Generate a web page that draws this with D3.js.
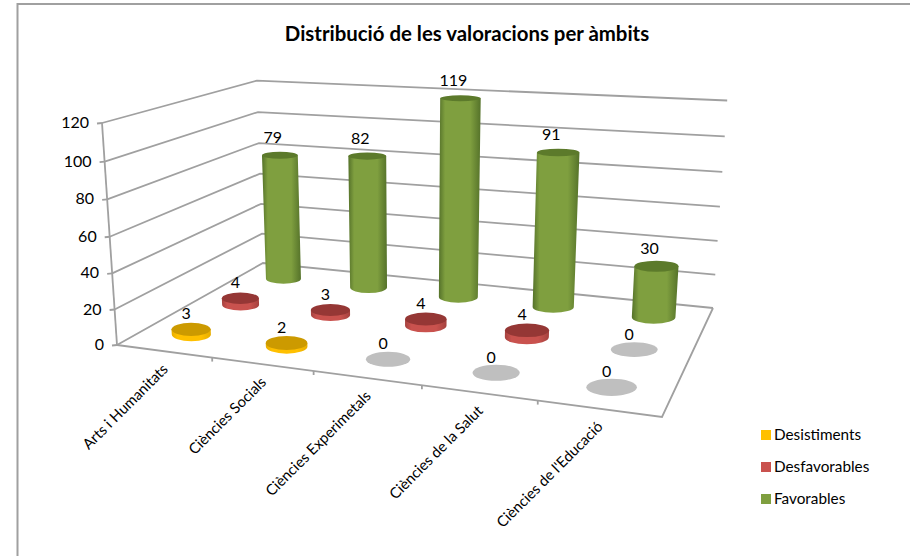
<!DOCTYPE html>
<html>
<head>
<meta charset="utf-8">
<script src="https://d3js.org/d3.v7.min.js"></script>
<style>
html, body { margin: 0; padding: 0; background: #fff; }
svg { display: block; }
text { font-family: Lato, "Open Sans", sans-serif; fill: #000; }
</style>
</head>
<body>
<div id="chart"></div>
<script>
const categories = ["Arts i Humanitats", "Ciències Socials", "Ciències Experimetals", "Ciències de la Salut", "Ciències de l'Educació"];
const seriesNames = ["Desistiments", "Desfavorables", "Favorables"];
const desistiments = [3, 2, 0, 0, 0];
const desfavorables = [4, 3, 4, 4, 0];
const favorables = [79, 82, 119, 91, 30];
const yTicks = [0, 20, 40, 60, 80, 100, 120];
const title = "Distribució de les valoracions per àmbits";

const colors = {
    Desistiments: {side: "#ffc000", dark: "#e6ad00", top: "#cc9a00"},
    Desfavorables: {side: "#c9524e", dark: "#a5423f", top: "#953735"},
    Favorables: {side: "#7f9f3f", dark: "#55722a", top: "#5c7a2b"}
};
const emptyColor = "#bfbfbf";
const gridColor = "#a0a0a0";

const width = 910, height = 556;

const svg = d3.select("#chart").append("svg")
    .attr("width", width)
    .attr("height", height);

// chart frame, open on the right and at the bottom
svg.append("path")
    .attr("d", "M17.5,556V4H910")
    .attr("fill", "none")
    .attr("stroke", "#a0a0a0")
    .attr("stroke-width", 2);

// scales are in unit space, project() takes them to the screen
const u = d3.scaleBand().domain(categories).range([0, 1]);
const v = d3.scaleBand().domain(seriesNames).range([0, 1]);
const w = d3.scaleLinear().domain([0, 120]).range([0, 1]);

// floor corners as seen in the picture, and where the verticals meet
const floorFL = [117, 345], floorFR = [662, 417], floorBR = [713, 308], floorBL = [263, 263];
const vertical = [412, 4711];
const topFL = [102, 123];

function cross(a, b) {
    return [a[1]*b[2]-a[2]*b[1], a[2]*b[0]-a[0]*b[2], a[0]*b[1]-a[1]*b[0]];
}
function h(p) { return [p[0], p[1], 1]; }

// vanishing points of the floor edges give the camera matrix
const vpU = cross(cross(h(floorFL), h(floorFR)), cross(h(floorBL), h(floorBR)));
const vpV = cross(cross(h(floorFL), h(floorBL)), cross(h(floorFR), h(floorBR)));

function solve3(col0, col1, col2, rhs) {
    const det = (a,b,c) => a[0]*(b[1]*c[2]-b[2]*c[1]) - b[0]*(a[1]*c[2]-a[2]*c[1]) + c[0]*(a[1]*b[2]-a[2]*b[1]);
    const d = det(col0, col1, col2);
    return [det(rhs, col1, col2)/d, det(col0, rhs, col2)/d, det(col0, col1, rhs)/d];
}
const k = solve3(vpU, vpV, h(floorFL), h(floorBR));
const colU = vpU.map(d => d*k[0]);
const colV = vpV.map(d => d*k[1]);
const colO = h(floorFL).map(d => d*k[2]);
const vp3 = h(vertical);
// scale of the vertical column from the top front left corner
const colW = (function() {
    const sx = (topFL[0]*colO[2]-colO[0]) / (vp3[0]-topFL[0]*vp3[2]);
    return vp3.map(d => d*sx);
})();

function project(a, b, c) {
    const X = colU[0]*a + colV[0]*b + colW[0]*c + colO[0];
    const Y = colU[1]*a + colV[1]*b + colW[1]*c + colO[1];
    const Z = colU[2]*a + colV[2]*b + colW[2]*c + colO[2];
    return [X/Z, Y/Z];
}

// walls and floor
const wall = svg.append("g").attr("fill", "none").attr("stroke", gridColor).attr("stroke-width", 1.8);
yTicks.forEach(t => {
    const pts = [project(0, 0, w(t)), project(0, 1, w(t)), project(1, 1, w(t))];
    wall.append("path").attr("d", d3.line()(pts));
    const p = pts[0];
    wall.append("line").attr("x1", p[0]-5).attr("y1", p[1]+0.5).attr("x2", p[0]).attr("y2", p[1]);
});
wall.append("path").attr("d", d3.line()([project(0, 0, 0), project(0, 0, 1)]));
wall.append("path").attr("d", d3.line()([project(0, 0, 0), project(1, 0, 0), project(1, 1, 0)]));
categories.forEach((c, i) => {
    if (i === 0) return;
    const p = project(i / categories.length, 0, 0);
    wall.append("line").attr("x1", p[0]).attr("y1", p[1]).attr("x2", p[0]).attr("y2", p[1]+4);
});

// y axis labels
svg.append("g").selectAll("text").data(yTicks).enter().append("text")
    .attr("x", d => project(0, 0, w(d))[0] - 13)
    .attr("y", d => project(0, 0, w(d))[1] + 5)
    .attr("text-anchor", "end")
    .attr("font-size", 16)
    .text(d => d);

// category labels, rotated
svg.append("g").selectAll("text").data(categories).enter().append("text")
    .attr("transform", d => {
        const p = project(u(d) + u.bandwidth()/2, 0, 0);
        return "translate(" + (p[0]+5) + "," + (p[1]+19) + ") rotate(-45)";
    })
    .attr("text-anchor", "end")
    .attr("font-size", 14.8)
    .text(d => d);

// shading across the cylinders
const defs = svg.append("defs");
seriesNames.forEach(s => {
    const g = defs.append("linearGradient").attr("id", "grad" + s);
    g.append("stop").attr("offset", "0%").attr("stop-color", colors[s].dark);
    g.append("stop").attr("offset", "15%").attr("stop-color", colors[s].side);
    g.append("stop").attr("offset", "75%").attr("stop-color", colors[s].side);
    g.append("stop").attr("offset", "100%").attr("stop-color", colors[s].dark);
});

const rU = 0.042, rV = 0.07;

function cylinder(name, cat, value) {
    const a = u(cat) + u.bandwidth()/2, b = v(name) + v.bandwidth()/2;
    const base = project(a, b, 0), top = project(a, b, w(value));
    const radii = (c) => {
        const l = project(a-rU, b, c), r = project(a+rU, b, c);
        const f = project(a, b-rV, c), n = project(a, b+rV, c);
        return {rx: Math.hypot(r[0]-l[0], r[1]-l[1])/2, ry: Math.abs(n[1]-f[1])/2};
    };
    const rb = radii(0), rt = radii(w(value));
    const g = svg.append("g");
    if (value === 0) {
        g.append("ellipse").attr("cx", base[0]).attr("cy", base[1]).attr("rx", rb.rx).attr("ry", rb.ry).attr("fill", emptyColor);
    } else {
        g.append("path")
            .attr("d", "M" + (top[0]-rt.rx) + "," + top[1]
                + "L" + (base[0]-rb.rx) + "," + base[1]
                + "A" + rb.rx + "," + rb.ry + " 0 0 0 " + (base[0]+rb.rx) + "," + base[1]
                + "L" + (top[0]+rt.rx) + "," + top[1] + "Z")
            .attr("fill", "url(#grad" + name + ")");
        g.append("ellipse").attr("cx", top[0]).attr("cy", top[1]).attr("rx", rt.rx).attr("ry", rt.ry).attr("fill", colors[name].top);
    }
    // small discs carry their label a little closer
    svg.append("text")
        .attr("x", top[0] - (value < 10 ? 5 : 7))
        .attr("y", top[1] - (value < 10 ? 10 : 12.5))
        .attr("text-anchor", "middle")
        .attr("font-size", 16)
        .text(value);
}

// back row first so the front ones sit on top
[["Favorables", favorables], ["Desfavorables", desfavorables], ["Desistiments", desistiments]].forEach(row => {
    categories.forEach((c, i) => cylinder(row[0], c, row[1][i]));
});

// title
svg.append("text")
    .attr("x", 467).attr("y", 41)
    .attr("text-anchor", "middle")
    .attr("font-size", 20.4)
    .attr("font-weight", "bold")
    .text(title);

// legend
const legend = svg.append("g").selectAll("g").data(seriesNames).enter().append("g")
    .attr("transform", (d, i) => "translate(761," + (430 + i*32) + ")");
legend.append("rect").attr("width", 10).attr("height", 10).attr("fill", d => colors[d].side);
legend.append("text").attr("x", 13).attr("y", 10).attr("font-size", 15.3).text(d => d);
</script>
</body>
</html>
